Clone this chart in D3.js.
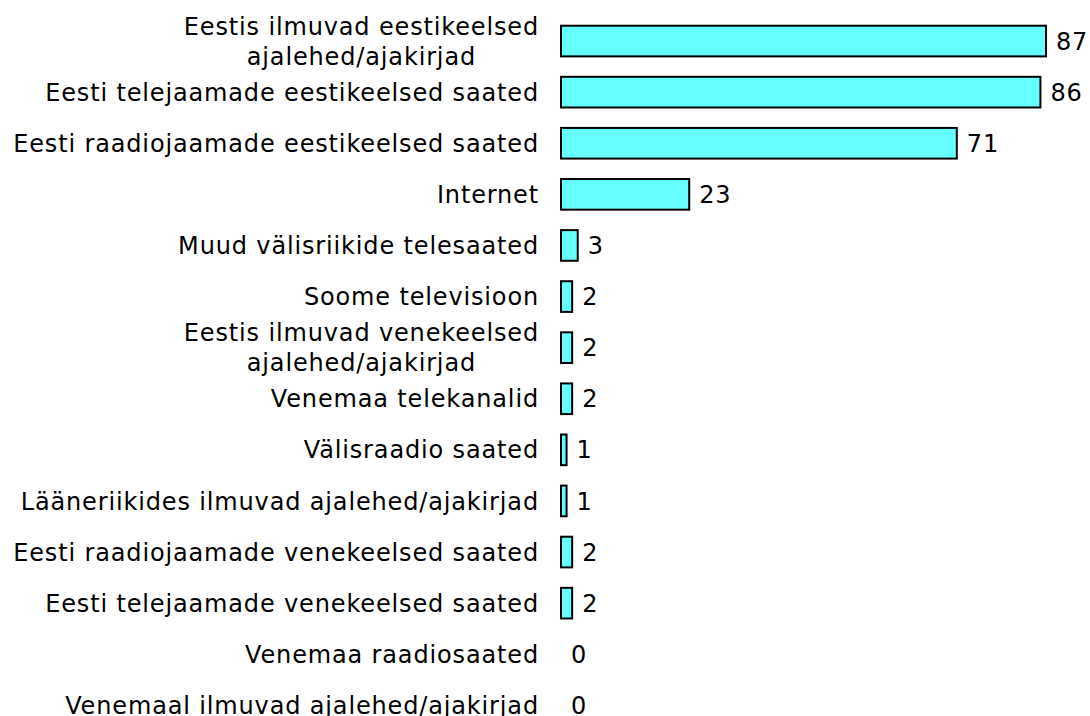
<!DOCTYPE html>
<meta charset="utf-8">
<style>
body { margin: 0; background: #fff; }
text { font-family: "DejaVu Sans", Verdana, sans-serif; font-size: 24px; letter-spacing: 0.85px; fill: #000; }
</style>
<body>
<script src="https://d3js.org/d3.v7.min.js"></script>
<script>
// categories (lines split for two-line labels) and values
var categories = [
  ["Eestis ilmuvad eestikeelsed", "ajalehed/ajakirjad"],
  ["Eesti telejaamade eestikeelsed saated"],
  ["Eesti raadiojaamade eestikeelsed saated"],
  ["Internet"],
  ["Muud välisriikide telesaated"],
  ["Soome televisioon"],
  ["Eestis ilmuvad venekeelsed", "ajalehed/ajakirjad"],
  ["Venemaa telekanalid"],
  ["Välisraadio saated"],
  ["Lääneriikides ilmuvad ajalehed/ajakirjad"],
  ["Eesti raadiojaamade venekeelsed saated"],
  ["Eesti telejaamade venekeelsed saated"],
  ["Venemaa raadiosaated"],
  ["Venemaal ilmuvad ajalehed/ajakirjad"]
];
var values = [87, 86, 71, 23, 3, 2, 2, 2, 1, 1, 2, 2, 0, 0];

var data = categories.map(function(c, i) { return {lines: c, value: values[i]}; });

var width = 1090, height = 716;
var x0 = 561, labelRight = 539;

var svg = d3.select("body").append("svg")
    .attr("width", width)
    .attr("height", height);

var x = d3.scaleLinear()
    .domain([0, 87])
    .range([x0, 1046]);

var y = d3.scaleBand()
    .domain(d3.range(data.length))
    .range([15.5, 15.5 + 51.1 * data.length])
    .paddingInner(0.4)
    .paddingOuter(0.2);

var row = svg.selectAll(".row")
    .data(data)
  .enter().append("g")
    .attr("class", "row")
    .attr("transform", function(d, i) { return "translate(0," + (y(i) + y.bandwidth() / 2) + ")"; });

row.filter(function(d) { return d.value > 0; })
  .append("rect")
    .attr("x", x(0))
    .attr("y", -y.bandwidth() / 2)
    .attr("width", function(d) { return x(d.value) - x(0); })
    .attr("height", y.bandwidth())
    .style("fill", "#66ffff")
    .style("stroke", "#000")
    .style("stroke-width", 2);

row.append("text")
    .attr("x", function(d) { return x(d.value) + 10; })
    .attr("dy", "0.36em")
    .text(function(d) { return d.value; });

// category labels: single lines right-aligned, wrapped ones centred on the widest line
row.each(function(d) {
  var g = d3.select(this);
  var n = d.lines.length;
  var t = g.append("text").attr("text-anchor", "end");
  var spans = d.lines.map(function(l, k) {
    return t.append("tspan")
        .attr("x", labelRight)
        .attr("y", (k - (n - 1) / 2) * 30)
        .attr("dy", "0.36em")
        .text(l);
  });
  if (n > 1) {
    var w = d3.max(spans, function(s) { return s.node().getComputedTextLength(); });
    t.attr("text-anchor", "middle");
    spans.forEach(function(s) { s.attr("x", labelRight - w / 2); });
  }
});
</script>
</body>
